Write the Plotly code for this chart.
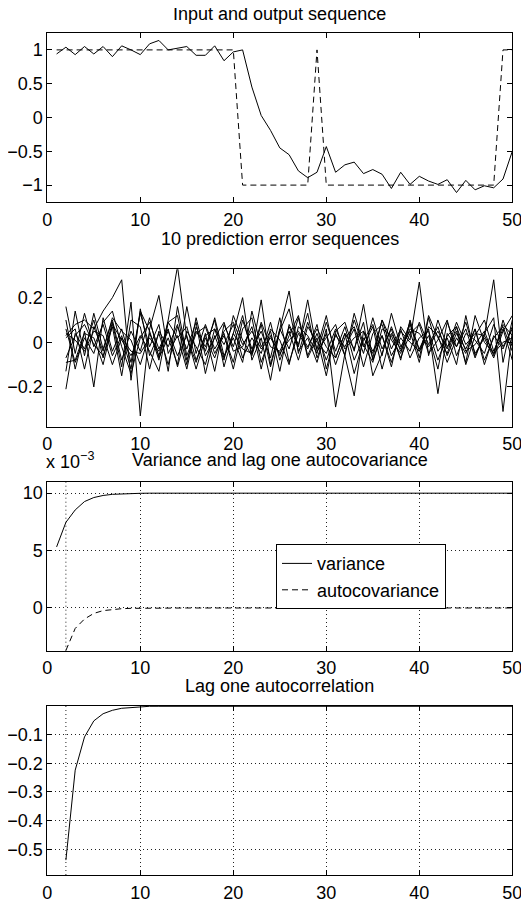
import plotly.graph_objects as go

FONT = "Liberation Sans, Arial, Helvetica, sans-serif"

# ---------------- Panel 1: input and output sequence ----------------
T1 = list(range(1, 51))
INPUT_SEQ = [1, 1, 1, 1, 1, 1, 1, 1, 1, 1,
             1, 1, 1, 1, 1, 1, 1, 1, 1, 1,
             -1, -1, -1, -1, -1, -1, -1, -1, 1, -1,
             -1, -1, -1, -1, -1, -1, -1, -1, -1, -1,
             -1, -1, -1, -1, -1, -1, -1, -1, 1, 1]
OUTPUT_SEQ = [0.94, 1.04, 0.93, 1.05, 0.94, 1.05, 0.90, 1.06, 1.00, 0.93,
              1.09, 1.14, 1.00, 1.02, 1.05, 0.92, 0.92, 1.06, 0.84, 0.97,
              1.00, 0.45, 0.03, -0.19, -0.45, -0.55, -0.79, -0.89, -0.81, -0.43,
              -0.81, -0.70, -0.66, -0.83, -0.77, -0.84, -1.05, -0.81, -0.99, -0.87,
              -0.94, -0.99, -0.92, -1.11, -0.93, -1.07, -1.01, -1.04, -0.91, -0.50]

# ---------------- Panel 2: 10 prediction error sequences (t = 2..50) ----------------
ERR_1 = [0.16, -0.05, 0.13, -0.02, 0.08, -0.06, 0.03,
         -0.12, 0.14, 0.05, -0.08, 0.10, 0.34, 0.02,
         -0.09, 0.04, -0.13, 0.08, -0.02, 0.12, -0.05,
         0.19, -0.10, 0.06, -0.03, 0.11, -0.07, 0.02,
         -0.15, 0.05, 0.09, -0.04, 0.17, -0.08, 0.03,
         -0.11, 0.07, 0.01, 0.27, -0.06, 0.10, -0.02,
         0.05, -0.09, 0.12, 0.00, -0.05, 0.08, 0.03]
ERR_2 = [-0.21, 0.04, -0.03, 0.10, -0.07, 0.09, -0.11,
         0.18, -0.33, 0.06, 0.21, -0.05, 0.03, -0.12,
         0.07, -0.04, 0.11, -0.06, 0.02, -0.09, 0.14,
         -0.02, 0.05, -0.13, 0.08, -0.01, 0.13, -0.07,
         0.04, -0.10, 0.02, 0.07, -0.05, 0.11, -0.03,
         0.06, -0.08, 0.10, -0.04, 0.03, -0.12, 0.09,
         -0.02, 0.06, -0.07, 0.04, 0.11, -0.31, 0.05]
ERR_3 = [0.03, 0.08, 0.10, 0.06, 0.14, 0.20, 0.28,
         -0.17, 0.15, -0.06, 0.04, -0.10, 0.07, -0.03,
         0.09, -0.14, 0.03, -0.08, 0.12, 0.01, -0.06,
         0.08, -0.11, 0.05, 0.15, -0.04, 0.02, -0.09,
         0.06, -0.29, -0.05, 0.10, -0.02, 0.07, -0.12,
         0.04, -0.03, 0.09, -0.07, 0.12, 0.02, -0.05,
         0.07, -0.10, 0.03, 0.10, -0.04, 0.06, -0.08]
ERR_4 = [0.10, -0.12, 0.05, -0.20, 0.11, -0.04, 0.06,
         -0.09, 0.13, -0.02, 0.08, -0.13, 0.16, -0.06,
         0.05, -0.02, 0.10, -0.11, 0.04, 0.20, -0.08,
         0.02, -0.17, 0.06, 0.23, -0.05, 0.09, -0.03,
         0.12, -0.07, 0.04, -0.14, 0.01, 0.08, -0.06,
         0.13, -0.02, 0.05, -0.09, 0.11, -0.04, 0.02,
         -0.10, 0.12, -0.06, 0.03, 0.28, -0.09, 0.10]
ERR_5 = [-0.13, 0.14, -0.06, 0.13, -0.03, 0.10, -0.08,
         0.05, -0.04, 0.11, -0.07, 0.02, -0.10, 0.16,
         -0.05, 0.08, -0.03, 0.04, -0.12, 0.06, 0.11,
         -0.09, 0.03, -0.06, 0.07, -0.02, 0.19, -0.04,
         0.02, 0.08, -0.06, -0.24, 0.05, -0.07, 0.10,
         0.01, -0.05, 0.08, -0.03, 0.06, -0.23, 0.04,
         -0.02, 0.09, -0.05, 0.02, -0.07, 0.05, 0.12]
ERR_6 = [0.06, -0.09, 0.02, -0.05, 0.09, 0.14, -0.02,
         -0.14, 0.02, 0.09, -0.03, 0.06, -0.11, 0.05,
         -0.02, -0.10, 0.06, -0.01, 0.08, -0.07, 0.02,
         -0.05, 0.09, -0.08, 0.03, 0.12, -0.06, 0.04,
         -0.08, 0.03, -0.02, 0.06, -0.11, 0.04, 0.08,
         -0.06, 0.02, -0.04, 0.09, -0.01, 0.07, -0.06,
         0.04, -0.03, 0.06, -0.08, 0.02, 0.07, -0.04]
ERR_7 = [0.02, 0.06, -0.12, 0.07, -0.04, 0.11, 0.05,
         0.01, -0.10, 0.04, -0.06, 0.09, 0.12, -0.08,
         0.04, 0.07, -0.05, 0.03, -0.09, 0.10, -0.03,
         0.05, -0.07, 0.11, -0.09, 0.04, -0.03, 0.08,
         -0.12, 0.04, -0.06, 0.13, -0.01, -0.09, 0.06,
         0.03, -0.07, 0.04, 0.08, -0.05, 0.01, 0.10,
         -0.06, 0.04, 0.01, -0.05, 0.08, -0.02, 0.06]
ERR_8 = [-0.07, 0.03, 0.08, -0.01, -0.06, 0.07, -0.15,
         0.10, 0.07, -0.12, 0.05, -0.02, 0.08, -0.10,
         0.11, -0.06, 0.02, 0.09, -0.04, -0.02, 0.07,
         -0.12, 0.06, 0.01, -0.10, 0.07, 0.03, -0.05,
         0.09, -0.04, 0.07, -0.08, 0.02, -0.05, 0.10,
         -0.03, 0.06, -0.07, 0.02, 0.05, -0.08, 0.03,
         0.07, -0.04, -0.01, 0.05, -0.06, 0.10, -0.02]
ERR_9 = [-0.09, -0.08, 0.04, 0.02, -0.10, 0.08, 0.01,
         -0.06, 0.03, -0.04, -0.13, 0.09, 0.02, 0.07,
         -0.08, 0.03, 0.06, -0.07, 0.04, -0.03, -0.05,
         0.09, -0.02, -0.04, 0.05, -0.08, 0.07, 0.00,
         -0.05, 0.06, -0.03, 0.02, 0.05, -0.04, 0.03,
         -0.09, 0.05, 0.00, -0.04, 0.07, 0.03, -0.09,
         0.02, -0.05, 0.06, -0.10, 0.03, -0.03, 0.07]
ERR_10 = [0.04, 0.01, -0.04, 0.05, 0.03, -0.10, 0.02,
          -0.04, -0.05, 0.02, -0.04, 0.05, -0.06, 0.03,
          -0.12, 0.02, -0.07, 0.05, 0.09, -0.01, 0.05,
          -0.03, 0.02, -0.05, 0.01, 0.05, -0.02, 0.06,
          -0.02, -0.07, 0.04, -0.03, 0.09, -0.15, -0.05,
          0.07, -0.04, 0.06, 0.04, -0.02, 0.05, -0.03,
          0.09, -0.01, 0.04, 0.03, -0.05, 0.00, 0.02]
ERRORS = [ERR_1, ERR_2, ERR_3, ERR_4, ERR_5, ERR_6, ERR_7, ERR_8, ERR_9, ERR_10]

# ---------------- Panel 3: variance (t=1..50) and lag one autocovariance (t=2..50), x 1e-3 ----------------
VARIANCE_E3 = [5.32, 7.46, 8.54, 9.27, 9.62, 9.80, 9.90, 9.95, 9.98, 9.99,
               10.00, 10.00, 10.00, 10.00, 10.00, 10.00, 10.00, 10.00, 10.00, 10.00,
               10.00, 10.00, 10.00, 10.00, 10.00, 10.00, 10.00, 10.00, 10.00, 10.00,
               10.00, 10.00, 10.00, 10.00, 10.00, 10.00, 10.00, 10.00, 10.00, 10.00,
               10.00, 10.00, 10.00, 10.00, 10.00, 10.00, 10.00, 10.00, 10.00, 10.00]
AUTOCOV_E3 = [-3.70, -1.78, -0.96, -0.47, -0.23, -0.12, -0.06, -0.03, -0.015,
              0.0, 0.0, 0.0, 0.0, 0.0, 0.0, 0.0, 0.0, 0.0, 0.0,
              0.0, 0.0, 0.0, 0.0, 0.0, 0.0, 0.0, 0.0, 0.0, 0.0,
              0.0, 0.0, 0.0, 0.0, 0.0, 0.0, 0.0, 0.0, 0.0, 0.0,
              0.0, 0.0, 0.0, 0.0, 0.0, 0.0, 0.0, 0.0, 0.0, 0.0]

# ---------------- Panel 4: lag one autocorrelation (t=2..50) ----------------
AUTOCORR = [-0.538, -0.224, -0.108, -0.052, -0.027, -0.015, -0.008, -0.005, -0.002,
            -0.001, -0.001, -0.001, -0.001, -0.001, -0.001, -0.001, -0.001, -0.001, -0.001,
            -0.001, -0.001, -0.001, -0.001, -0.001, -0.001, -0.001, -0.001, -0.001, -0.001,
            -0.001, -0.001, -0.001, -0.001, -0.001, -0.001, -0.001, -0.001, -0.001, -0.001,
            -0.001, -0.001, -0.001, -0.001, -0.001, -0.001, -0.001, -0.001, -0.001, -0.001]

FIRST_LAG = 2
X_TICKS = [0, 10, 20, 30, 40, 50]
TITLES = ["Input and output sequence", "10 prediction error sequences",
          "Variance and lag one autocovariance", "Lag one autocorrelation"]

# ---------------- layout helpers ----------------
# The page body has an 8px margin; the figure is sized so that it fills the window exactly.
PAGE_OFF = 8
W, H = 529 - PAGE_OFF, 901 - PAGE_OFF

def py(px):
    return 1 - (px - PAGE_OFF) / H

def px_x(px):
    return (px - PAGE_OFF) / W

X_DOM = [px_x(47.3), px_x(512.3)]
Y_DOMS = [(33, 202), (269.3, 426.7), (481.7, 650.7), (706, 875)]
FS = 18
LINE = dict(color="black", width=1)

fig = go.Figure()

# Panel 1
fig.add_trace(go.Scatter(x=T1, y=OUTPUT_SEQ, mode="lines", line=LINE, showlegend=False,
                         xaxis="x", yaxis="y"))
fig.add_trace(go.Scatter(x=T1, y=INPUT_SEQ, mode="lines", line=dict(color="black", width=1, dash="6px,4px"),
                         showlegend=False, xaxis="x", yaxis="y"))

# Panel 2
for e in ERRORS:
    fig.add_trace(go.Scatter(x=list(range(2, 2 + len(e))), y=e, mode="lines", line=LINE,
                             showlegend=False, xaxis="x2", yaxis="y2"))

# Panel 3
fig.add_trace(go.Scatter(x=T1, y=VARIANCE_E3, mode="lines", line=LINE, name="variance",
                         xaxis="x3", yaxis="y3"))
fig.add_trace(go.Scatter(x=list(range(2, 2 + len(AUTOCOV_E3))), y=AUTOCOV_E3, mode="lines",
                         line=dict(color="black", width=1, dash="6px,4px"), name="autocovariance",
                         xaxis="x3", yaxis="y3"))

# Panel 4
fig.add_trace(go.Scatter(x=list(range(2, 2 + len(AUTOCORR))), y=AUTOCORR, mode="lines", line=LINE,
                         showlegend=False, xaxis="x4", yaxis="y4"))


def axis(dom, anchor, rng, grid=False, **kw):
    d = dict(domain=dom, anchor=anchor, range=rng, showline=True, linecolor="black", linewidth=1,
             mirror="ticks", ticks="inside", ticklen=5, tickcolor="black", tickwidth=1,
             zeroline=False, showgrid=grid, automargin=False,
             tickfont=dict(family=FONT, size=FS, color="black"))
    if grid:
        d.update(gridcolor="#222", griddash="1px,3px", gridwidth=1)
    d.update(kw)
    return d

ranges = [[-1.25, 1.25], [-0.378, 0.327], [-3.72, 11.0], [-0.59, 0.0]]
yticks = [[-1, -0.5, 0, 0.5, 1], [-0.2, 0, 0.2], [0, 5, 10], [-0.5, -0.4, -0.3, -0.2, -0.1]]
layout_axes = {}
for i in range(4):
    n = "" if i == 0 else str(i + 1)
    grid = i >= 2
    ydom = [py(Y_DOMS[i][1]), py(Y_DOMS[i][0])]
    layout_axes["xaxis" + n] = axis(X_DOM, "y" + n, [0, 50], grid, tickvals=X_TICKS,
                                    ticklabelstandoff=1)
    layout_axes["yaxis" + n] = axis(ydom, "x" + n, ranges[i], grid, tickvals=yticks[i])

fig.update_layout(**layout_axes)

annotations = []
title_bottoms = [25.5, 251, 471.5, 697.5]
for t, b in zip(TITLES, title_bottoms):
    annotations.append(dict(text=t, x=px_x(279.8), y=py(b), xref="paper", yref="paper",
                            xanchor="center", yanchor="bottom", showarrow=False,
                            font=dict(family=FONT, size=FS, color="black")))
annotations.append(dict(text="x 10<sup>−3</sup>", x=px_x(44), y=py(473.5), xref="paper", yref="paper",
                        xanchor="left", yanchor="bottom", showarrow=False,
                        font=dict(family=FONT, size=FS, color="black")))

shapes = []
for n in ["3", "4"]:
    shapes.append(dict(type="line", xref="x" + n, yref="y" + n + " domain", x0=FIRST_LAG, x1=FIRST_LAG,
                       y0=0, y1=1, line=dict(color="#222", width=1, dash="1px,3px"), layer="below"))

fig.update_layout(
    width=W, height=H, margin=dict(l=0, r=0, t=0, b=0, autoexpand=False),
    paper_bgcolor="white", plot_bgcolor="white",
    annotations=annotations, shapes=shapes,
    showlegend=True,
    legend=dict(x=px_x(276), y=py(576.7), xanchor="left", yanchor="middle",
                bordercolor="black", borderwidth=1, bgcolor="white",
                font=dict(family=FONT, size=FS, color="black"),
                tracegroupgap=0, itemwidth=30),
    font=dict(family=FONT, color="black"),
)

fig.write_html("out.html")
